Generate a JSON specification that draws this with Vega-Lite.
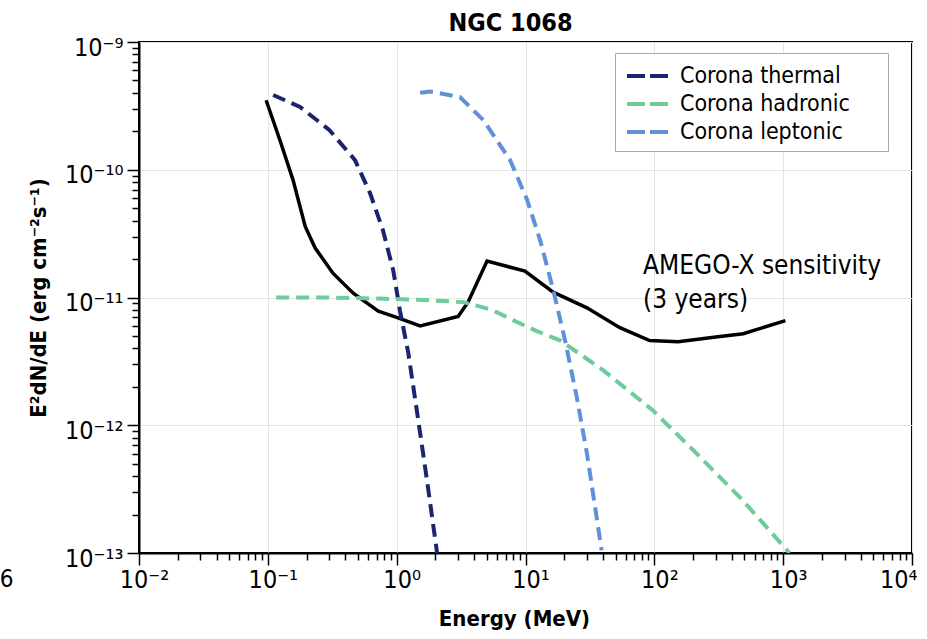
{
  "$schema": "https://vega.github.io/schema/vega-lite/v6.json",
  "width": 773,
  "height": 511,
  "autosize": {"type": "none"},
  "padding": {"left": 139, "top": 42, "right": 15, "bottom": 86},
  "background": "white",
  "title": {"text": "NGC 1068", "fontSize": 25, "fontWeight": "bold", "font": "DejaVu Sans Condensed", "color": "black", "offset": -1, "dx": -15},
  "config": {
    "font": "DejaVu Sans Condensed",
    "view": {"stroke": "black", "strokeWidth": 2},
    "axis": {
      "domainColor": "black", "domainWidth": 2,
      "tickColor": "black", "tickWidth": 1.5,
      "labelColor": "black", "titleColor": "black",
      "labelFont": "DejaVu Sans Condensed", "titleFont": "DejaVu Sans Condensed",
      "labelFontSize": 25, "titleFontSize": 22, "titleFontWeight": "bold",
      "labelOverlap": false, "labelFlush": false, "labelBound": false,
      "gridColor": "#e4e4e4", "gridWidth": 1
    }
  },
  "datasets": {
    "sens": [
      {"E": 0.097, "F": 3.5e-10}, {"E": 0.124, "F": 1.71e-10}, {"E": 0.157, "F": 8.3e-11}, {"E": 0.195, "F": 3.6e-11},
      {"E": 0.233, "F": 2.44e-11}, {"E": 0.32, "F": 1.55e-11}, {"E": 0.46, "F": 1.08e-11}, {"E": 0.72, "F": 7.8e-12},
      {"E": 1.0, "F": 7.0e-12}, {"E": 1.52, "F": 6.0e-12}, {"E": 3.0, "F": 7.1e-12}, {"E": 3.58, "F": 9.2e-12},
      {"E": 5.03, "F": 1.93e-11}, {"E": 9.9, "F": 1.61e-11}, {"E": 16.4, "F": 1.1e-11}, {"E": 30, "F": 8.3e-12},
      {"E": 54, "F": 5.8e-12}, {"E": 92, "F": 4.6e-12}, {"E": 153, "F": 4.5e-12}, {"E": 300, "F": 4.9e-12},
      {"E": 490, "F": 5.2e-12}, {"E": 1040, "F": 6.6e-12}
    ],
    "models": [
      {"component": "Corona thermal", "E": 0.11, "F": 3.85e-10},
      {"component": "Corona thermal", "E": 0.178, "F": 3.1e-10},
      {"component": "Corona thermal", "E": 0.30, "F": 2.05e-10},
      {"component": "Corona thermal", "E": 0.475, "F": 1.19e-10},
      {"component": "Corona thermal", "E": 0.62, "F": 6.6e-11},
      {"component": "Corona thermal", "E": 0.78, "F": 3.4e-11},
      {"component": "Corona thermal", "E": 0.94, "F": 1.64e-11},
      {"component": "Corona thermal", "E": 1.06, "F": 7.9e-12},
      {"component": "Corona thermal", "E": 1.23, "F": 3.7e-12},
      {"component": "Corona thermal", "E": 1.47, "F": 1.1e-12},
      {"component": "Corona thermal", "E": 1.72, "F": 3.7e-13},
      {"component": "Corona thermal", "E": 2.06, "F": 1.0e-13},
      {"component": "Corona hadronic", "E": 0.116, "F": 1.0e-11},
      {"component": "Corona hadronic", "E": 0.3, "F": 1.0e-11},
      {"component": "Corona hadronic", "E": 0.74, "F": 9.8e-12},
      {"component": "Corona hadronic", "E": 1.5, "F": 9.6e-12},
      {"component": "Corona hadronic", "E": 3.3, "F": 9.2e-12},
      {"component": "Corona hadronic", "E": 5.5, "F": 8.0e-12},
      {"component": "Corona hadronic", "E": 8.0, "F": 6.65e-12},
      {"component": "Corona hadronic", "E": 12, "F": 5.5e-12},
      {"component": "Corona hadronic", "E": 18.7, "F": 4.6e-12},
      {"component": "Corona hadronic", "E": 40, "F": 2.7e-12},
      {"component": "Corona hadronic", "E": 98, "F": 1.3e-12},
      {"component": "Corona hadronic", "E": 200, "F": 6.4e-13},
      {"component": "Corona hadronic", "E": 466, "F": 2.7e-13},
      {"component": "Corona hadronic", "E": 1120, "F": 1.0e-13},
      {"component": "Corona leptonic", "E": 1.52, "F": 4.0e-10},
      {"component": "Corona leptonic", "E": 1.82, "F": 4.1e-10},
      {"component": "Corona leptonic", "E": 3.1, "F": 3.7e-10},
      {"component": "Corona leptonic", "E": 4.7, "F": 2.45e-10},
      {"component": "Corona leptonic", "E": 7.6, "F": 1.19e-10},
      {"component": "Corona leptonic", "E": 10.3, "F": 5.8e-11},
      {"component": "Corona leptonic", "E": 13, "F": 2.8e-11},
      {"component": "Corona leptonic", "E": 16.4, "F": 1.15e-11},
      {"component": "Corona leptonic", "E": 20.3, "F": 4.6e-12},
      {"component": "Corona leptonic", "E": 25, "F": 1.66e-12},
      {"component": "Corona leptonic", "E": 30, "F": 6.0e-13},
      {"component": "Corona leptonic", "E": 39, "F": 1.05e-13}
    ],
    "annot": [
      {"E": 81.8, "F": 1.76e-11, "label": "AMEGO-X sensitivity"},
      {"E": 81.8, "F": 9.5e-12, "label": "(3 years)"}
    ],
    "stray": [
      {"E": 0.00094, "F": 6.2e-14, "label": "6"}
    ]
  },
  "layer": [
    {
      "data": {"name": "sens"},
      "mark": {"type": "line", "color": "black", "strokeWidth": 3.5, "clip": true},
      "encoding": {
        "x": {
          "field": "E", "type": "quantitative",
          "scale": {"type": "log", "domain": [0.01, 10000], "nice": false},
          "axis": {
            "title": "Energy (MeV)",
            "titleX": 375, "titlePadding": 16,
            "values": [0.01,0.02,0.03,0.04,0.05,0.06,0.07,0.08,0.09,0.1,0.2,0.3,0.4,0.5,0.6,0.7,0.8,0.9,1,2,3,4,5,6,7,8,9,10,20,30,40,50,60,70,80,90,100,200,300,400,500,600,700,800,900,1000,2000,3000,4000,5000,6000,7000,8000,9000,10000],
            "tickSize": {"condition": {"test": "abs(log(datum.value)/LN10 - round(log(datum.value)/LN10)) < 0.001", "value": 12}, "value": 7},
            "gridOpacity": {"condition": {"test": "abs(log(datum.value)/LN10 - round(log(datum.value)/LN10)) < 0.001", "value": 1}, "value": 0},
            "labelAlign": {"condition": {"test": "datum.value > 9000", "value": "right"}, "value": "center"},
            "labelPadding": 2, "labelOffset": 5,
            "labelExpr": "abs(log(datum.value)/LN10 - round(log(datum.value)/LN10)) < 0.001 ? '10' + (round(log(datum.value)/LN10) < 0 ? '⁻' : '') + (abs(round(log(datum.value)/LN10)) >= 10 ? substring('⁰¹²³⁴⁵⁶⁷⁸⁹', floor(abs(round(log(datum.value)/LN10))/10), floor(abs(round(log(datum.value)/LN10))/10)+1) : '') + substring('⁰¹²³⁴⁵⁶⁷⁸⁹', abs(round(log(datum.value)/LN10)) % 10, abs(round(log(datum.value)/LN10)) % 10 + 1) : ''"
          }
        },
        "y": {
          "field": "F", "type": "quantitative",
          "scale": {"type": "log", "domain": [1e-13, 1e-9], "nice": false},
          "axis": {
            "title": "E²dN/dE (erg cm⁻²s⁻¹)",
            "titlePadding": 14,
            "values": [1e-13,2e-13,3e-13,4e-13,5e-13,6e-13,7e-13,8e-13,9e-13,1e-12,2e-12,3e-12,4e-12,5e-12,6e-12,7e-12,8e-12,9e-12,1e-11,2e-11,3e-11,4e-11,5e-11,6e-11,7e-11,8e-11,9e-11,1e-10,2e-10,3e-10,4e-10,5e-10,6e-10,7e-10,8e-10,9e-10,1e-9],
            "tickSize": {"condition": {"test": "abs(log(datum.value)/LN10 - round(log(datum.value)/LN10)) < 0.001", "value": 12}, "value": 7},
            "gridOpacity": {"condition": {"test": "abs(log(datum.value)/LN10 - round(log(datum.value)/LN10)) < 0.001", "value": 1}, "value": 0},
            "labelPadding": 4, "labelOffset": 5,
            "labelExpr": "abs(log(datum.value)/LN10 - round(log(datum.value)/LN10)) < 0.001 ? '10' + (round(log(datum.value)/LN10) < 0 ? '⁻' : '') + (abs(round(log(datum.value)/LN10)) >= 10 ? substring('⁰¹²³⁴⁵⁶⁷⁸⁹', floor(abs(round(log(datum.value)/LN10))/10), floor(abs(round(log(datum.value)/LN10))/10)+1) : '') + substring('⁰¹²³⁴⁵⁶⁷⁸⁹', abs(round(log(datum.value)/LN10)) % 10, abs(round(log(datum.value)/LN10)) % 10 + 1) : ''"
          }
        }
      }
    },
    {
      "data": {"name": "models"},
      "mark": {"type": "line", "strokeWidth": 4, "strokeDash": [13, 7], "clip": true},
      "encoding": {
        "x": {"field": "E", "type": "quantitative", "scale": {"type": "log", "domain": [0.01, 10000], "nice": false}},
        "y": {"field": "F", "type": "quantitative", "scale": {"type": "log", "domain": [1e-13, 1e-9], "nice": false}},
        "color": {
          "field": "component", "type": "nominal",
          "scale": {"domain": ["Corona thermal", "Corona hadronic", "Corona leptonic"], "range": ["#1b2471", "#6dcb9c", "#6090d8"]},
          "legend": {
            "title": null, "orient": "none", "legendX": 476, "legendY": 11,
            "strokeColor": "#a8a8a8", "fillColor": "white", "padding": 7,
            "symbolType": "M-1.5,0H1.5", "symbolSize": 784, "symbolStrokeWidth": 4, "symbolDash": [18, 5], "symbolOffset": 10,
            "labelFontSize": 23, "labelFont": "DejaVu Sans Condensed", "labelColor": "black", "labelOffset": 16, "rowPadding": 0, "labelLimit": 400,
            "labelExpr": "datum.label + '\u2800\u2800'"
          }
        }
      }
    },
    {
      "data": {"name": "annot"},
      "mark": {"type": "text", "align": "left", "baseline": "middle", "fontSize": 26, "font": "DejaVu Sans Condensed", "color": "black"},
      "encoding": {
        "x": {"field": "E", "type": "quantitative", "scale": {"type": "log", "domain": [0.01, 10000], "nice": false}},
        "y": {"field": "F", "type": "quantitative", "scale": {"type": "log", "domain": [1e-13, 1e-9], "nice": false}},
        "text": {"field": "label"}
      }
    },
    {
      "data": {"name": "stray"},
      "mark": {"type": "text", "align": "center", "baseline": "middle", "fontSize": 24, "font": "DejaVu Sans Condensed", "color": "black", "clip": false},
      "encoding": {
        "x": {"field": "E", "type": "quantitative", "scale": {"type": "log", "domain": [0.01, 10000], "nice": false}},
        "y": {"field": "F", "type": "quantitative", "scale": {"type": "log", "domain": [1e-13, 1e-9], "nice": false}},
        "text": {"field": "label"}
      }
    }
  ]
}
